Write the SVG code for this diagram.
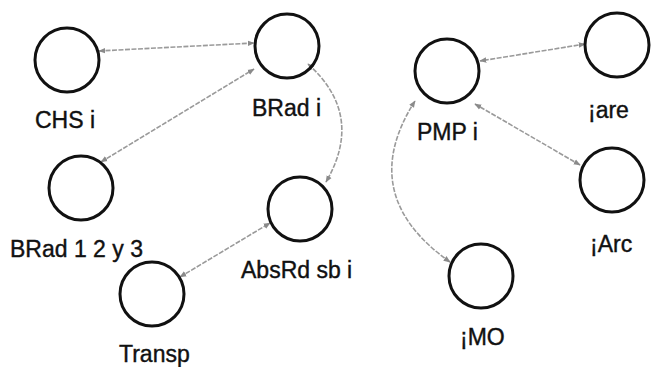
<svg xmlns="http://www.w3.org/2000/svg" width="651" height="367" viewBox="0 0 651 367">
<style>
.n{fill:none;stroke:#111;stroke-width:3}
.t{font-family:"Liberation Sans",Arial,sans-serif;font-size:23px;fill:#111;stroke:#111;stroke-width:0.4}
.c{fill:none;stroke:#9a9a9a;stroke-width:1.6;stroke-dasharray:5 1.5;marker-start:url(#a);marker-end:url(#a)}
</style>
<defs>
<marker id="a" viewBox="0 0 10 10" refX="9" refY="5" markerWidth="7" markerHeight="7" orient="auto-start-reverse" markerUnits="userSpaceOnUse">
<path d="M0,1 L10,5 L0,9 z" fill="#8a8a8a"/>
</marker>
</defs>
<rect width="651" height="367" fill="#fff"/>
<g id="connectors">
<path class="c" d="M99,51 L254,43"/>
<path class="c" d="M101,162 L254,69"/>
<path class="c" d="M308,64 Q365,115 326,182"/>
<path class="c" d="M180,277 L270,223"/>
<path class="c" d="M585,44 L480,61"/>
<path class="c" d="M580,165 L475,104"/>
<path class="c" d="M450,262 Q355,195 415,101"/>
</g>
<g id="chs"><circle class="n" cx="67" cy="60" r="32"/><text class="t" x="35" y="128">CHS i</text></g>
<g id="brad"><circle class="n" cx="287" cy="46" r="32"/><text class="t" x="252" y="116">BRad i</text></g>
<g id="brad123"><circle class="n" cx="81" cy="188" r="32"/><text class="t" x="10" y="257">BRad 1 2 y 3</text></g>
<g id="absrd"><circle class="n" cx="300" cy="209" r="32"/><text class="t" x="241" y="278">AbsRd sb i</text></g>
<g id="transp"><circle class="n" cx="152" cy="294" r="32"/><text class="t" x="119" y="362">Transp</text></g>
<g id="pmp"><circle class="n" cx="447" cy="71" r="32"/><text class="t" x="417" y="140">PMP i</text></g>
<g id="are"><circle class="n" cx="617" cy="45" r="32"/><text class="t" x="588" y="118">¡are</text></g>
<g id="arc"><circle class="n" cx="612" cy="180" r="32"/><text class="t" x="590" y="252">¡Arc</text></g>
<g id="mo"><circle class="n" cx="481" cy="276" r="32"/><text class="t" x="460" y="345">¡MO</text></g>
</svg>
